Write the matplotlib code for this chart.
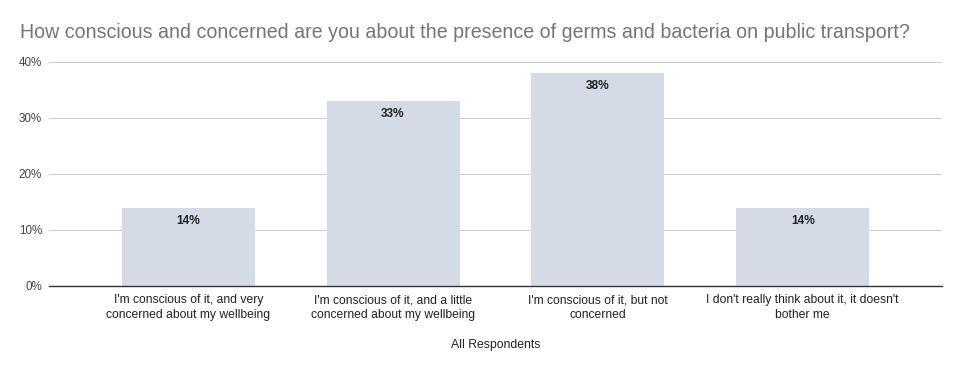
import numpy as np
import matplotlib.pyplot as plt

# --- data ---
categories = [
    "I'm conscious of it, and very\nconcerned about my wellbeing",
    "I'm conscious of it, and a little\nconcerned about my wellbeing",
    "I'm conscious of it, but not\nconcerned",
    "I don't really think about it, it doesn't\nbother me",
]
values = [0.14, 0.33, 0.38, 0.14]
bar_labels = ["14%", "33%", "38%", "14%"]
y_ticks = [0, 0.1, 0.2, 0.3, 0.4]
y_tick_labels = ["0%", "10%", "20%", "30%", "40%"]

plt.rcParams['font.family'] = ['Liberation Sans', 'DejaVu Sans']

fig = plt.figure(figsize=(9.6, 3.71), dpi=100)
ax = fig.add_axes([49 / 960, 1 - 286 / 371, (942 - 49) / 960, (286 - 62) / 371])

x = np.arange(len(categories))
ax.bar(x, values, width=0.65, color='#d5dae7', zorder=2)

for xi, v, lab in zip(x, values, bar_labels):
    ax.annotate(lab, (xi, v), xytext=(0, -13), textcoords='offset pixels',
                ha='center', va='center', fontsize=8.6, fontweight='bold',
                color='#222222', zorder=3)

ax.set_xlim(-0.68, 3.68)
ax.set_ylim(0, 0.4)
ax.set_yticks(y_ticks)
ax.set_yticklabels(y_tick_labels, fontsize=8.4, color='#444444')
ax.set_xticks(x)
ax.set_xticklabels(categories, fontsize=8.7, color='#222222', linespacing=1.3)
ax.tick_params(axis='both', length=0)
ax.tick_params(axis='x', pad=6)
ax.tick_params(axis='y', pad=5)

ax.grid(axis='y', color='#cccccc', linewidth=0.8, zorder=0)
for s in ['top', 'right', 'left']:
    ax.spines[s].set_visible(False)
ax.spines['bottom'].set_color('#333333')
ax.spines['bottom'].set_linewidth(1.0)
ax.spines['bottom'].set_zorder(4)

ax.set_xlabel("All Respondents", fontsize=8.8, color='#222222', labelpad=13)

fig.text(20 / 960, 1 - 32 / 371, "How conscious and concerned are you about the presence of germs and bacteria on public transport?",
         fontsize=14.1, color='#757575', ha='left', va='center')

fig.savefig('out.png', dpi=100)
